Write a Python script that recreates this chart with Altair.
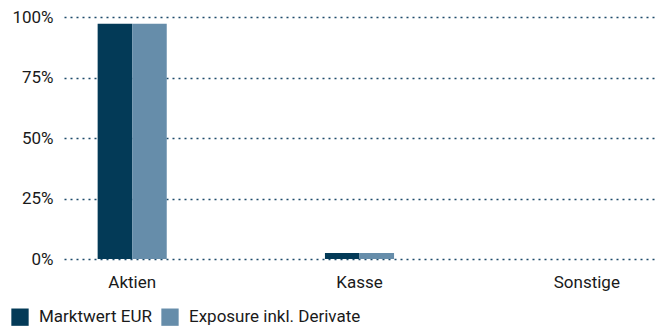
import altair as alt
import pandas as pd

categories = ["Aktien", "Kasse", "Sonstige"]
series = ["Marktwert EUR", "Exposure inkl. Derivate"]
marktwert = [0.972, 0.025, 0.0]
exposure = [0.972, 0.025, 0.0]
colors = ["#033a57", "#668daa"]

rows = []
for c, a, b in zip(categories, marktwert, exposure):
    rows.append({"Kategorie": c, "Serie": series[0], "Wert": a})
    rows.append({"Kategorie": c, "Serie": series[1], "Wert": b})
df = pd.DataFrame(rows)

font = "Roboto"

chart = alt.Chart(df).mark_bar().encode(
    x=alt.X("Kategorie:N", sort=categories, title=None,
            scale=alt.Scale(paddingInner=0.696, paddingOuter=0.148),
            axis=alt.Axis(labelAngle=0, ticks=False, domain=False, labelPadding=15,
                          labelFontSize=17, labelFont=font, labelColor="#1a1a1a")),
    xOffset=alt.XOffset("Serie:N", sort=series, scale=alt.Scale(paddingInner=0, paddingOuter=0)),
    y=alt.Y("Wert:Q", title=None,
            scale=alt.Scale(domain=[0, 1], nice=False),
            axis=alt.Axis(values=[0, 0.25, 0.5, 0.75, 1.0], format=".0%", ticks=False, domain=False,
                          labelPadding=11, labelFontSize=17, labelFont=font, labelColor="#1a1a1a",
                          grid=True, gridColor="#1d4a6a", gridDash=[2, 4], gridWidth=1.5)),
    color=alt.Color("Serie:N", sort=series, title=None,
                    scale=alt.Scale(domain=series, range=colors),
                    legend=alt.Legend(orient="none", legendX=-53, legendY=291, direction="horizontal",
                                      symbolType="square", symbolSize=300, symbolStrokeWidth=0,
                                      labelFontSize=17, labelFont=font, labelColor="#1a1a1a",
                                      labelLimit=0, labelOffset=10,
                                      columnPadding=9, symbolOffset=0, padding=0)),
).properties(
    width=591, height=242,
    autosize=alt.AutoSizeParams(type="none"),
    padding={"left": 56, "top": 9, "right": 0, "bottom": 70},
).configure_view(stroke=None)

chart.save("out.html", embed_options={"renderer": "svg", "actions": False})
